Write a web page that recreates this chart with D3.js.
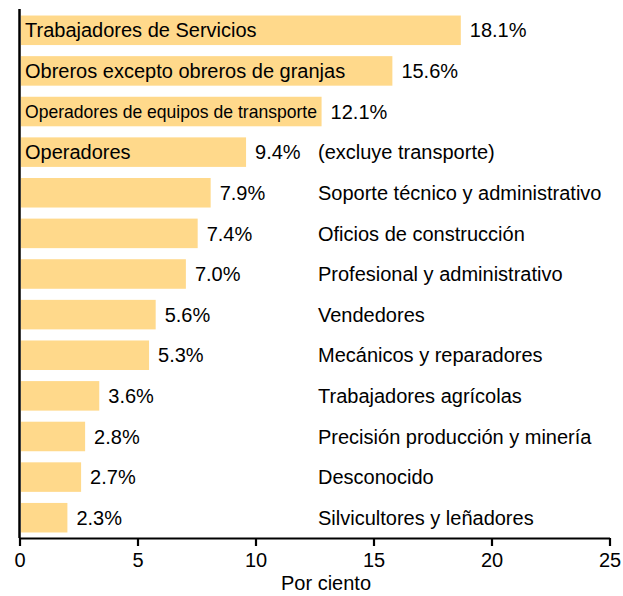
<!DOCTYPE html>
<html>
<head>
<meta charset="utf-8">
<script src="https://cdn.jsdelivr.net/npm/d3@7"></script>
<style>
  html, body { margin: 0; padding: 0; background: #fff; }
  svg { display: block; }
  text { font-family: "Liberation Sans", Arial, Helvetica, sans-serif; fill: #000; }
</style>
</head>
<body>
<script>
// ---- data ----
const insideLabels = [
  "Trabajadores de Servicios",
  "Obreros excepto obreros de granjas",
  "Operadores de equipos de transporte",
  "Operadores",
  "", "", "", "", "", "", "", "", ""
];
const rightLabels = [
  "", "", "", "(excluye transporte)",
  "Soporte técnico y administrativo",
  "Oficios de construcción",
  "Profesional y administrativo",
  "Vendedores",
  "Mecánicos y reparadores",
  "Trabajadores agrícolas",
  "Precisión producción y minería",
  "Desconocido",
  "Silvicultores y leñadores"
];
const valueLabels = ["18.1%", "15.6%", "12.1%", "9.4%", "7.9%", "7.4%", "7.0%", "5.6%", "5.3%", "3.6%", "2.8%", "2.7%", "2.3%"];
// bar lengths as drawn in the picture (percent units)
const barLengths = [18.7, 15.8, 12.8, 9.6, 8.1, 7.55, 7.05, 5.77, 5.49, 3.38, 2.78, 2.61, 2.03];
const xTicks = [0, 5, 10, 15, 20, 25];
const xTitle = "Por ciento";

// ---- layout ----
const W = 623, H = 596;
const axisY = 538, x0 = 19.5;
const fs = 20;

const svg = d3.select("body").append("svg").attr("width", W).attr("height", H);

const x = d3.scaleLinear().domain([0, 25]).range([x0, 609.5]);
const idx = d3.range(barLengths.length);
const y = d3.scaleBand().domain(idx).range([10, axisY]).paddingInner(0.273).paddingOuter(0.136);

// bars
svg.selectAll("rect.bar").data(idx).enter().append("rect")
  .attr("class", "bar")
  .attr("x", x(0) + 1.5)
  .attr("y", i => y(i))
  .attr("width", i => x(barLengths[i]) - x(0) - 1.5)
  .attr("height", y.bandwidth())
  .attr("fill", "#FFD98B");

// labels inside bars
svg.selectAll("text.inside").data(idx.filter(i => insideLabels[i])).enter().append("text")
  .attr("class", "inside")
  .attr("x", 25)
  .attr("y", i => y(i) + y.bandwidth() / 2)
  .attr("dy", "0.36em")
  .style("font-size", i => (i === 2 ? 18.5 : fs) + "px")
  .each(function(i) {
    if (i === 2) d3.select(this).attr("textLength", 292).attr("lengthAdjust", "spacingAndGlyphs");
  })
  .text(i => insideLabels[i]);

// value labels
svg.selectAll("text.val").data(idx).enter().append("text")
  .attr("class", "val")
  .attr("x", i => x(barLengths[i]) + 9)
  .attr("y", i => y(i) + y.bandwidth() / 2)
  .attr("dy", "0.36em")
  .style("font-size", fs + "px")
  .text(i => valueLabels[i]);

// right column labels
svg.selectAll("text.right").data(idx.filter(i => rightLabels[i])).enter().append("text")
  .attr("class", "right")
  .attr("x", 318)
  .attr("y", i => y(i) + y.bandwidth() / 2)
  .attr("dy", "0.36em")
  .style("font-size", fs + "px")
  .text(i => rightLabels[i]);

// vertical axis line
svg.append("line")
  .attr("x1", x0).attr("x2", x0)
  .attr("y1", 9).attr("y2", axisY)
  .attr("stroke", "#000").attr("stroke-width", 2.5);

// x axis
const xAxis = d3.axisBottom(x).tickValues(xTicks).tickFormat(d3.format("d"))
  .tickSize(8).tickSizeOuter(0).tickPadding(7);
const gx = svg.append("g").attr("transform", `translate(0,${axisY})`).call(xAxis);
gx.select(".domain").attr("stroke", "#000").attr("stroke-width", 2.2);
gx.selectAll(".tick line").attr("stroke", "#000").attr("stroke-width", 2.2);
gx.selectAll(".tick text")
  .style("font-family", '"Liberation Sans", Arial, Helvetica, sans-serif')
  .style("font-size", fs + "px").attr("fill", "#000");

svg.append("text")
  .attr("x", 326)
  .attr("y", 590)
  .attr("text-anchor", "middle")
  .style("font-size", fs + "px")
  .text(xTitle);
</script>
</body>
</html>
